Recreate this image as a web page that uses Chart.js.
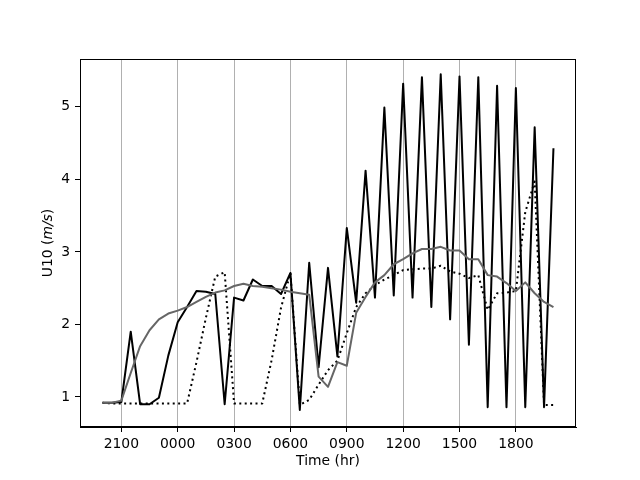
<!DOCTYPE html>
<html>
<head>
<meta charset="utf-8">
<script src="https://cdn.jsdelivr.net/npm/chart.js@4/dist/chart.umd.min.js"></script>
<style>
    html, body { margin: 0; padding: 0; background: white; }
</style>
</head>
<body>
<canvas id="u10_chart" width="640" height="480"></canvas>
<script>

Chart.defaults.font.size = 13.9;
Chart.defaults.font.family = "'DejaVu Sans', sans-serif";
Chart.defaults.color = 'black';


// x values: hours after 2100, every half hour
var hours = [-1, -0.5, 0, 0.5, 1, 1.5, 2, 2.5, 3, 3.5, 4, 4.5, 5, 5.5, 6, 6.5,
             7, 7.5, 8, 8.5, 9, 9.5, 10, 10.5, 11, 11.5, 12, 12.5, 13, 13.5,
             14, 14.5, 15, 15.5, 16, 16.5, 17, 17.5, 18, 18.5, 19, 19.5, 20,
             20.5, 21, 21.5, 22, 22.5, 23];

var tick_hours = [0, 3, 6, 9, 12, 15, 18, 21];
var tick_labels = ['2100', '0000', '0300', '0600', '0900', '1200', '1500', '1800'];
var y_ticks = [1, 2, 3, 4, 5];

// U10 series (m/s)
var u10_solid = [0.92, 0.92, 0.93, 1.90, 0.90, 0.90, 0.99, 1.57, 2.03, 2.24,
                 2.46, 2.45, 2.42, 0.90, 2.37, 2.33, 2.62, 2.53, 2.53, 2.42,
                 2.71, 0.82, 2.85, 1.41, 2.78, 1.56, 3.33, 2.30, 4.12, 2.37,
                 4.99, 2.40, 5.32, 2.37, 5.41, 2.24, 5.45, 2.07, 5.42, 1.72,
                 5.41, 0.86, 5.29, 0.86, 5.26, 0.86, 4.72, 0.86, 4.43];

var u10_dotted = [0.92, 0.91, 0.91, 0.91, 0.91, 0.91, 0.91, 0.91, 0.91, 0.91,
                  1.48, 2.09, 2.66, 2.72, 0.91, 0.91, 0.91, 0.91, 1.51, 2.23,
                  2.71, 0.89, 0.96, 1.17, 1.37, 1.50, 1.88, 2.24, 2.43, 2.54,
                  2.62, 2.68, 2.75, 2.76, 2.77, 2.77, 2.81, 2.73, 2.70, 2.64,
                  2.68, 2.20, 2.43, 2.44, 2.46, 3.55, 3.97, 0.89, 0.89];

var u10_gray = [0.92, 0.92, 0.95, 1.33, 1.70, 1.92, 2.07, 2.15, 2.19, 2.24,
                2.31, 2.38, 2.44, 2.47, 2.53, 2.56, 2.53, 2.52, 2.50, 2.48,
                2.45, 2.43, 2.41, 1.28, 1.14, 1.48, 1.43, 2.16, 2.38, 2.58,
                2.68, 2.83, 2.90, 2.98, 3.04, 3.04, 3.07, 3.02, 3.02, 2.90,
                2.90, 2.68, 2.66, 2.57, 2.46, 2.58, 2.43, 2.31, 2.24];


function toPoints(values) {
    return values.map(function (v, i) { return {x: hours[i], y: v}; });
}

// matplotlib style box round the plot area
var frame_plugin = {
    id: 'frame',
    afterDraw: function (chart) {
        var a = chart.chartArea;
        var ctx = chart.ctx;
        ctx.save();
        ctx.strokeStyle = 'black';
        ctx.lineWidth = 1;
        ctx.strokeRect(Math.round(a.left) + 0.5, Math.round(a.top) + 0.5,
                       Math.round(a.right - a.left) - 1, Math.round(a.bottom - a.top) - 1);
        ctx.restore();
    }
};

// y title with italic units, as mathtext does it
var ytitle_plugin = {
    id: 'ytitle',
    afterDraw: function (chart) {
        var a = chart.chartArea;
        var ctx = chart.ctx;
        var parts = [['U10 (', 'normal'], ['m/s', 'italic'], [')', 'normal']];
        var size = Chart.defaults.font.size;
        var fam = Chart.defaults.font.family;
        var total = 0;
        parts.forEach(function (p) {
            ctx.font = p[1] + ' ' + size + 'px ' + fam;
            total += ctx.measureText(p[0]).width;
        });
        ctx.save();
        ctx.translate(48, (a.top + a.bottom) / 2);
        ctx.rotate(-Math.PI / 2);
        ctx.fillStyle = 'black';
        ctx.textBaseline = 'middle';
        ctx.textAlign = 'left';
        var x = -total / 2;
        parts.forEach(function (p) {
            ctx.font = p[1] + ' ' + size + 'px ' + fam;
            ctx.fillText(p[0], x, 0);
            x += ctx.measureText(p[0]).width;
        });
        ctx.restore();
    }
};


var ctx = document.getElementById('u10_chart').getContext('2d');

var u10_chart = new Chart(ctx, {
    type: 'line',

    data: {
        datasets: [
            {
                data: toPoints(u10_gray),
                borderColor: '#666666',
                borderWidth: 2,},
            {
                data: toPoints(u10_dotted),
                borderColor: 'black',
                borderWidth: 2,
                borderDash: [2, 3.4],},
            {
                data: toPoints(u10_solid),
                borderColor: 'black',
                borderWidth: 2,},
        ],
    },

    options: {
        responsive: false,
        animation: false,
        layout: { padding: { left: 0, top: 59, right: 64, bottom: 0 } },

        elements: {
            point: { radius: 0 },
            line: { tension: 0, borderJoinStyle: 'round', fill: false },
        },

        scales: {
            x: {
                type: 'linear',
                min: -2.2,
                max: 24.2,
                afterFit: function (s) { s.height = 53; },
                afterBuildTicks: function (s) {
                    s.ticks = tick_hours.map(function (h) { return {value: h}; });
                },
                ticks: {
                    padding: 4,
                    maxRotation: 0,
                    autoSkip: false,
                    callback: function (v) { return tick_labels[tick_hours.indexOf(v)]; },
                },
                grid: { color: '#b0b0b0', lineWidth: 1, tickColor: 'black', tickLength: 5 },
                border: { display: true, color: 'black' },
                title: { display: true, text: 'Time (hr)', padding: { top: 0, bottom: 10 } },
            },
            y: {
                type: 'linear',
                min: 0.586,
                max: 5.66,
                afterFit: function (s) { s.width = 80; },
                afterBuildTicks: function (s) {
                    s.ticks = y_ticks.map(function (v) { return {value: v}; });
                },
                ticks: { padding: 5 },
                grid: { drawOnChartArea: false, tickColor: 'black', tickLength: 5 },
                border: { display: true, color: 'black' },
                title: { display: false },
            },
        },

        plugins: {
            legend: { display: false },
            tooltip: { enabled: false },
        },
    },

    plugins: [frame_plugin, ytitle_plugin],
});

</script>
</body>
</html>
